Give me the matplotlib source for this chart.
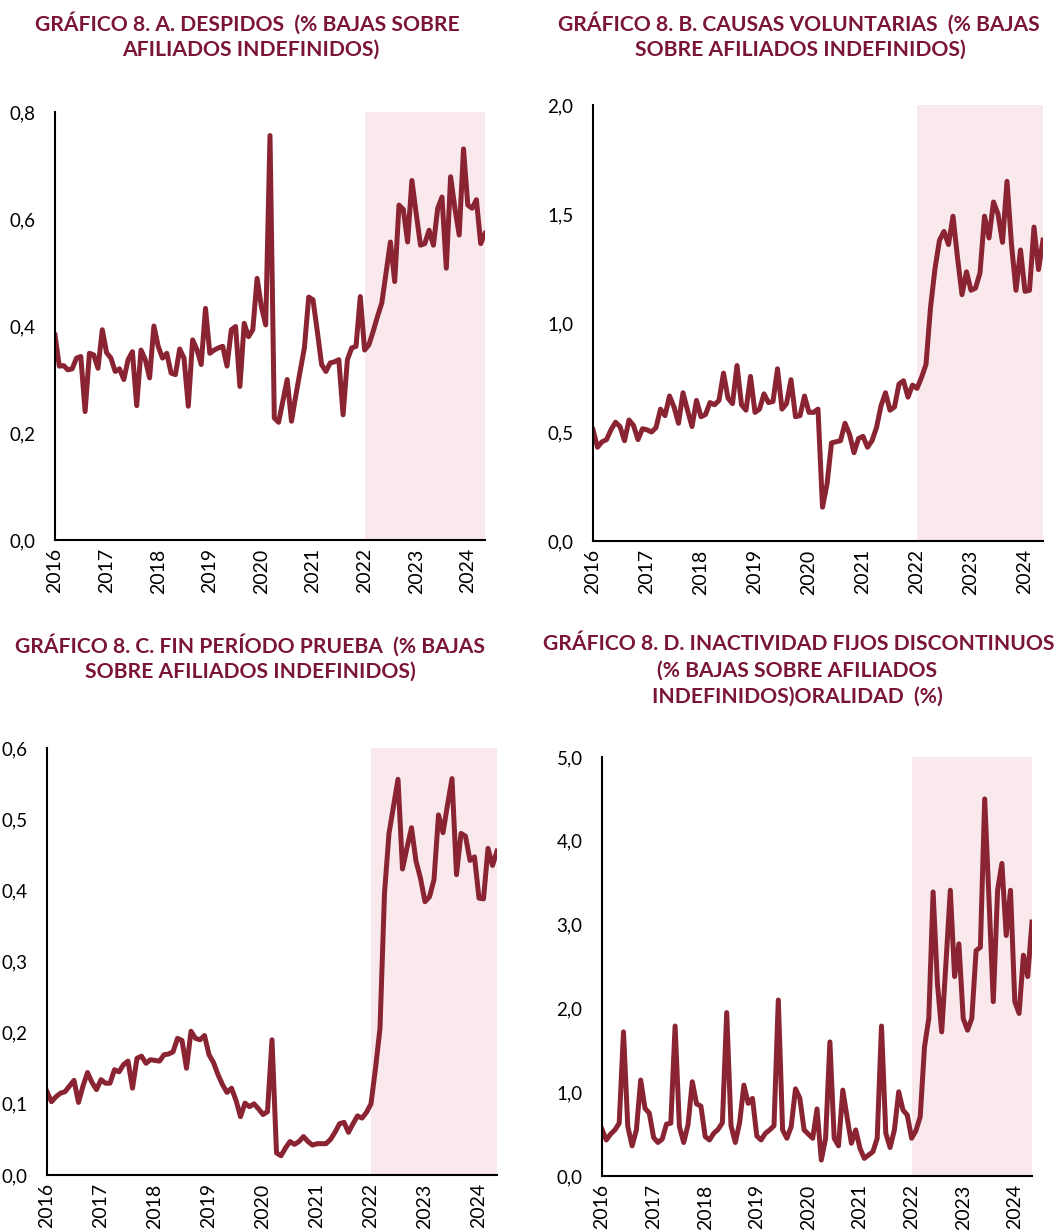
import matplotlib
matplotlib.use("Agg")
import matplotlib.pyplot as plt
from matplotlib.ticker import FuncFormatter
import numpy as np

# monthly data, Jan 2016 - May 2024
years = ['2016', '2017', '2018', '2019', '2020', '2021', '2022', '2023', '2024']

despidos = [
    0.383, 0.325, 0.326, 0.318, 0.320, 0.340, 0.343, 0.240, 0.349, 0.346, 0.321, 0.393,
    0.350, 0.340, 0.315, 0.320, 0.300, 0.337, 0.352, 0.251, 0.355, 0.337, 0.303, 0.400,
    0.362, 0.340, 0.349, 0.312, 0.309, 0.357, 0.340, 0.250, 0.374, 0.356, 0.328, 0.433,
    0.349, 0.355, 0.359, 0.362, 0.325, 0.393, 0.399, 0.287, 0.405, 0.380, 0.393, 0.489,
    0.436, 0.402, 0.756, 0.228, 0.220, 0.260, 0.300, 0.222, 0.270, 0.315, 0.359, 0.454,
    0.449, 0.390, 0.328, 0.315, 0.331, 0.333, 0.337, 0.234, 0.337, 0.359, 0.362, 0.455,
    0.355, 0.365, 0.390, 0.418, 0.443, 0.500, 0.557, 0.483, 0.626, 0.618, 0.557, 0.672,
    0.610, 0.551, 0.554, 0.579, 0.551, 0.620, 0.641, 0.508, 0.679, 0.620, 0.570, 0.731,
    0.626, 0.620, 0.636, 0.554, 0.573,
]

voluntarias = [
    0.51, 0.43, 0.455, 0.465, 0.51, 0.545, 0.525, 0.46, 0.555, 0.53, 0.465, 0.515,
    0.51, 0.50, 0.52, 0.605, 0.575, 0.665, 0.615, 0.54, 0.68, 0.60, 0.525, 0.645,
    0.57, 0.58, 0.635, 0.625, 0.645, 0.77, 0.655, 0.63, 0.805, 0.625, 0.60, 0.755,
    0.59, 0.605, 0.675, 0.635, 0.64, 0.79, 0.605, 0.63, 0.74, 0.57, 0.575, 0.665,
    0.59, 0.59, 0.605, 0.155, 0.26, 0.45, 0.455, 0.46, 0.54, 0.49, 0.405, 0.47,
    0.48, 0.43, 0.46, 0.52, 0.62, 0.68, 0.60, 0.615, 0.72, 0.735, 0.66, 0.715,
    0.70, 0.75, 0.81, 1.07, 1.25, 1.38, 1.42, 1.36, 1.49, 1.30, 1.13, 1.235,
    1.15, 1.16, 1.23, 1.49, 1.39, 1.555, 1.50, 1.37, 1.65, 1.36, 1.15, 1.335,
    1.145, 1.15, 1.44, 1.245, 1.38,
]

periodo_prueba = [
    0.117, 0.103, 0.110, 0.115, 0.117, 0.125, 0.133, 0.102, 0.125, 0.144, 0.130, 0.120,
    0.134, 0.129, 0.129, 0.148, 0.145, 0.155, 0.160, 0.122, 0.164, 0.167, 0.157, 0.162,
    0.161, 0.160, 0.169, 0.170, 0.173, 0.192, 0.189, 0.150, 0.202, 0.192, 0.190, 0.196,
    0.169, 0.158, 0.141, 0.127, 0.116, 0.122, 0.105, 0.082, 0.101, 0.096, 0.100, 0.093,
    0.085, 0.089, 0.190, 0.031, 0.027, 0.038, 0.047, 0.043, 0.047, 0.054, 0.047, 0.042,
    0.044, 0.044, 0.044, 0.050, 0.060, 0.072, 0.074, 0.060, 0.072, 0.083, 0.080, 0.088,
    0.100, 0.150, 0.206, 0.396, 0.480, 0.518, 0.556, 0.430, 0.460, 0.488, 0.441, 0.417,
    0.384, 0.391, 0.415, 0.506, 0.481, 0.520, 0.557, 0.422, 0.480, 0.476, 0.442, 0.447,
    0.389, 0.388, 0.459, 0.435, 0.455,
]

fijos_discontinuos = [
    0.556, 0.43, 0.50, 0.55, 0.63, 1.72, 0.59, 0.36, 0.55, 1.145, 0.807, 0.75,
    0.46, 0.40, 0.44, 0.62, 0.63, 1.79, 0.59, 0.40, 0.61, 1.125, 0.86, 0.835,
    0.47, 0.43, 0.51, 0.556, 0.636, 1.95, 0.60, 0.40, 0.636, 1.085, 0.867, 0.926,
    0.477, 0.43, 0.51, 0.55, 0.60, 2.10, 0.55, 0.45, 0.59, 1.04, 0.93, 0.55,
    0.50, 0.45, 0.80, 0.19, 0.45, 1.60, 0.45, 0.36, 1.025, 0.70, 0.39, 0.55,
    0.33, 0.21, 0.25, 0.29, 0.45, 1.79, 0.51, 0.34, 0.55, 1.005, 0.787, 0.727,
    0.45, 0.54, 0.707, 1.54, 1.88, 3.39, 2.30, 1.72, 2.55, 3.41, 2.38, 2.77,
    1.88, 1.74, 1.88, 2.69, 2.73, 4.50, 3.30, 2.08, 3.41, 3.73, 2.87, 3.41,
    2.08, 1.94, 2.635, 2.38, 3.03,
]

LINE = '#8a2433'
TITLE = '#7a1536'
SHADE = '#f9e9ed'
W, H = 1057, 1231

plt.rcParams['font.family'] = ['Lato', 'DejaVu Sans']

fig = plt.figure(figsize=(W / 100, H / 100), dpi=100)


def comma(v, pos):
    return f'{v:.1f}'.replace('.', ',')


def panel(box, values, ymax, ystep):
    # box in pixels: left, top, right, bottom
    l, t, r, b = box
    ax = fig.add_axes([l / W, 1 - b / H, (r - l) / W, (b - t) / H])
    x = np.arange(len(values))
    ax.axvspan(years.index('2022') * 12, len(values) - 1, color=SHADE, lw=0, zorder=0)
    ax.plot(x, values, color=LINE, lw=3.6, solid_joinstyle='round', zorder=2)
    ax.set_xlim(0, len(values) - 1)
    ax.set_ylim(0, ymax)
    ax.set_yticks(np.arange(0, ymax + ystep / 2, ystep))
    ax.yaxis.set_major_formatter(FuncFormatter(comma))
    ax.set_xticks(range(0, len(values), 12))
    ax.set_xticklabels(years, rotation=90)
    ax.tick_params(axis='y', length=0, pad=14, labelsize=13.5)
    ax.tick_params(axis='x', length=0, pad=6, labelsize=14)
    for s in ['top', 'right']:
        ax.spines[s].set_visible(False)
    for s in ['left', 'bottom']:
        ax.spines[s].set_linewidth(1.5)
        ax.spines[s].set_color('black')
    return ax


panel((55, 112, 485, 540), despidos, 0.8, 0.2)
panel((593, 105, 1043, 541), voluntarias, 2.0, 0.5)
panel((47, 748, 497, 1175), periodo_prueba, 0.6, 0.1)
panel((602, 757, 1032, 1176), fijos_discontinuos, 5.0, 1.0)

titles = [
    ('GRÁFICO 8. A. DESPIDOS  (% BAJAS SOBRE', 247, 23),
    ('AFILIADOS INDEFINIDOS)', 251, 50),
    ('GRÁFICO 8. B. CAUSAS VOLUNTARIAS  (% BAJAS', 799, 23),
    ('SOBRE AFILIADOS INDEFINIDOS)', 800, 50),
    ('GRÁFICO 8. C. FIN PERÍODO PRUEBA  (% BAJAS', 250, 645),
    ('SOBRE AFILIADOS INDEFINIDOS)', 250, 672),
    ('GRÁFICO 8. D. INACTIVIDAD FIJOS DISCONTINUOS', 799, 644),
    ('(% BAJAS SOBRE AFILIADOS', 797, 671),
    ('INDEFINIDOS)ORALIDAD  (%)', 797, 697),
]
for txt, x, y in titles:
    fig.text(x / W, 1 - y / H, txt, ha='center', va='center',
             fontsize=15.2, fontweight='bold', color=TITLE)

fig.savefig('out.png', dpi=100)
